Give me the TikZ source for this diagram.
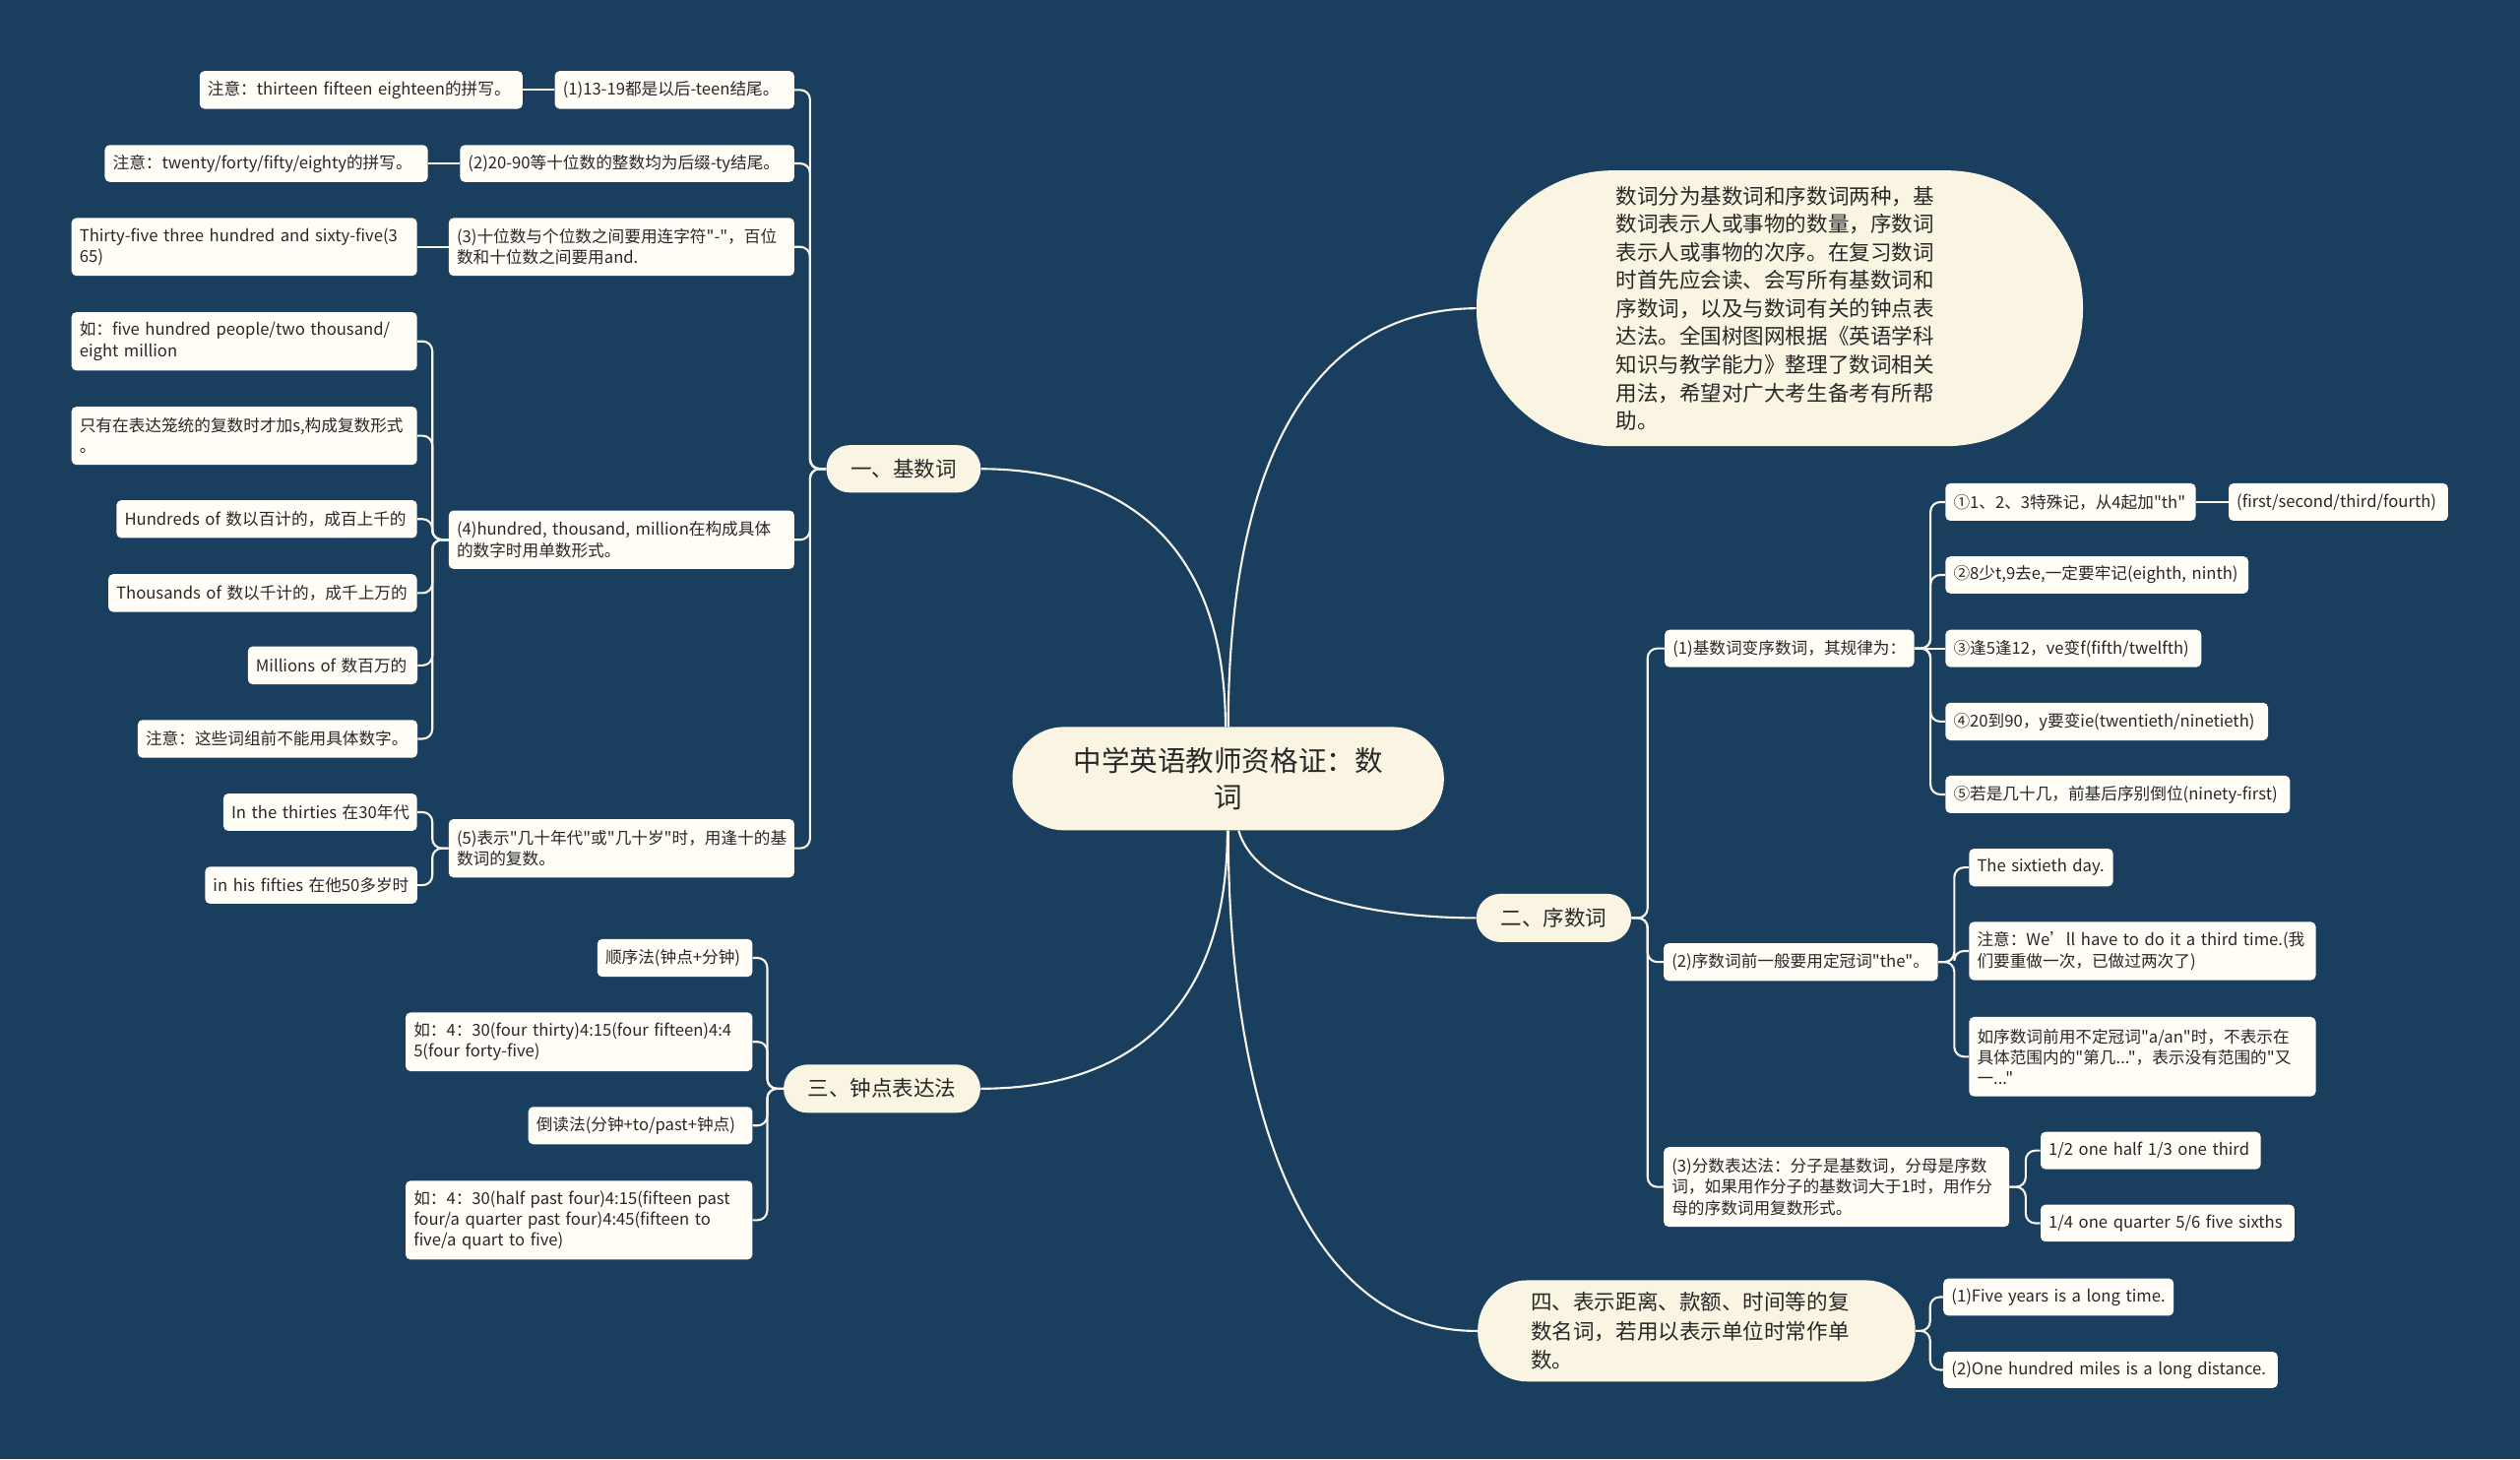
\documentclass[tikz,border=0pt]{standalone}
\usepackage{fontspec}
\setmainfont{Noto Sans CJK SC}[Ligatures=TeXOff]
\definecolor{bgc}{HTML}{1A3E5E}
\definecolor{pillc}{RGB}{250,245,226}
\definecolor{leafc}{RGB}{255,253,246}
\definecolor{txtc}{RGB}{40,40,40}
\definecolor{linec}{RGB}{246,244,236}
\pgfdeclarelayer{background}
\pgfsetlayers{background,main}
\tikzset{
  leaf/.style={rectangle, rounded corners=3pt, fill=leafc, text=txtc, inner xsep=5pt, inner ysep=2pt, align=left, anchor=north west, font=\fontsize{10.2}{13}\selectfont},
  pillb/.style={rectangle, fill=pillc, text=txtc, inner sep=0pt},
  conn/.style={draw=linec, line width=1.3pt},
  tree/.style={conn, rounded corners=6pt},
}
\begin{document}
\begin{tikzpicture}[x=1pt,y=-1pt]
\begin{pgfonlayer}{background}
\fill[bgc] (0,0) rectangle (1568,908);
\end{pgfonlayer}
\useasboundingbox (0,0) rectangle (1568,908);

% central and main branches
\node[pillb, minimum width=268.5pt, minimum height=64.3pt, rounded corners=32pt, align=center, font=\fontsize{17.5}{22.5}\selectfont] (title) at (764.2,484.4) {中学英语教师资格证：数\\词};
\node[pillb, minimum width=377.3pt, minimum height=171.5pt, rounded corners=85pt, align=left, font=\fontsize{13.2}{17.5}\selectfont] (intro) at (1107.4,191.8) {数词分为基数词和序数词两种，基\hspace*{6pt}\\数词表示人或事物的数量，序数词\\表示人或事物的次序。在复习数词\\时首先应会读、会写所有基数词和\\序数词，以及与数词有关的钟点表\\达法。全国树图网根据《英语学科\\知识与教学能力》整理了数词相关\\用法，希望对广大考生备考有所帮\\助。};
\node[pillb, minimum width=96pt, minimum height=29.5pt, rounded corners=14.5pt, font=\fontsize{13.2}{16}\selectfont] (B1) at (562.2,291.7) {一、基数词};
\node[pillb, minimum width=96.3pt, minimum height=30pt, rounded corners=14.8pt, font=\fontsize{13.2}{16}\selectfont] (B2) at (966.8,571.1) {二、序数词};
\node[pillb, minimum width=122.4pt, minimum height=30pt, rounded corners=14.8pt, font=\fontsize{13.2}{16}\selectfont] (B3) at (548.8,677.3) {三、钟点表达法};
\node[pillb, minimum width=272.3pt, minimum height=63pt, rounded corners=31pt, align=left, font=\fontsize{13.2}{18}\selectfont] (B4) at (1055.6,828) {四、表示距离、款额、时间等的复\hspace*{8pt}\\数名词，若用以表示单位时常作单\\数。};

% branch one
\node[leaf, text width=139pt, minimum height=23.5pt] (L1) at (345,44) {\mbox{(1)13-19都是以后-teen结尾。}};
\node[leaf, text width=191pt, minimum height=23.5pt] (L1a) at (124,44) {\mbox{注意：thirteen fifteen eighteen的拼写。}};
\node[leaf, text width=198pt, minimum height=23pt] (L2) at (286,90) {\mbox{(2)20-90等十位数的整数均为后缀-ty结尾。}};
\node[leaf, text width=191pt, minimum height=23pt] (L2a) at (65,90) {\mbox{注意：twenty/forty/fifty/eighty的拼写。}};
\node[leaf, text width=205pt, minimum height=36pt] (L3) at (279,135.4) {\mbox{(3)十位数与个位数之间要用连字符"-"，百位}\\\mbox{数和十位数之间要用and.}};
\node[leaf, text width=205pt, minimum height=36pt] (L3a) at (44.3,135.4) {\mbox{Thirty-five three hundred and sixty-five(3}\\\mbox{65)}};
\node[leaf, text width=205pt, minimum height=36.4pt] (L4) at (279,317.4) {\mbox{(4)hundred, thousand, million在构成具体}\\\mbox{的数字时用单数形式。}};
\node[leaf, text width=205pt, minimum height=36.3pt] (L4a) at (44.3,194) {\mbox{如：five hundred people/two thousand/}\\\mbox{eight million}};
\node[leaf, text width=205pt, minimum height=36.2pt] (L4b) at (44.3,252.8) {\mbox{只有在表达笼统的复数时才加s,构成复数形式}\\\mbox{。}};
\node[leaf, text width=177pt, minimum height=23.5pt] (L4c) at (72.3,311) {\mbox{Hundreds of 数以百计的，成百上千的}};
\node[leaf, text width=182pt, minimum height=23.5pt] (L4d) at (67.2,357) {\mbox{Thousands of 数以千计的，成千上万的}};
\node[leaf, text width=95.5pt, minimum height=23.5pt] (L4e) at (154,402) {\mbox{Millions of 数百万的}};
\node[leaf, text width=164pt, minimum height=23.5pt] (L4f) at (85.5,447.7) {\mbox{注意：这些词组前不能用具体数字。}};
\node[leaf, text width=205pt, minimum height=36.3pt] (L5) at (279,509.4) {\mbox{(5)表示"几十年代"或"几十岁"时，用逢十的基}\\\mbox{数词的复数。}};
\node[leaf, text width=110.5pt, minimum height=23.2pt] (L5a) at (138.8,493.5) {\mbox{In the thirties 在30年代}};
\node[leaf, text width=122pt, minimum height=23pt] (L5b) at (127.4,539) {\mbox{in his fifties 在他50多岁时}};

% branch three
\node[leaf, text width=86.5pt, minimum height=23.5pt] (T1) at (371.5,584) {\mbox{顺序法(钟点+分钟)}};
\node[leaf, text width=205.8pt, minimum height=36.5pt] (T2) at (252.2,629.7) {\mbox{如：4：30(four thirty)4:15(four fifteen)4:4}\\\mbox{5(four forty-five)}};
\node[leaf, text width=129.5pt, minimum height=23.3pt] (T3) at (328.5,688.4) {\mbox{倒读法(分钟+to/past+钟点)}};
\node[leaf, text width=205.8pt, minimum height=49pt] (T4) at (252.2,734.4) {\mbox{如：4：30(half past four)4:15(fifteen past}\\\mbox{four/a quarter past four)4:45(fifteen to}\\\mbox{five/a quart to five)}};

% branch two
\node[leaf, text width=145.2pt, minimum height=23.2pt] (S1) at (1035.6,391.6) {\mbox{(1)基数词变序数词，其规律为：}};
\node[leaf, text width=145.7pt, minimum height=23.3pt] (S1a) at (1210.3,300.5) {\mbox{①1、2、3特殊记，从4起加"th"}};
\node[leaf, text width=126.5pt, minimum height=23.3pt] (S1a1) at (1386.5,300.5) {\mbox{(first/second/third/fourth)}};
\node[leaf, text width=178.5pt, minimum height=23pt] (S1b) at (1210.3,346) {\mbox{②8少t,9去e,一定要牢记(eighth, ninth)}};
\node[leaf, text width=149.2pt, minimum height=23.2pt] (S1c) at (1210.3,391.6) {\mbox{③逢5逢12，ve变f(fifth/twelfth)}};
\node[leaf, text width=190.7pt, minimum height=23.4pt] (S1d) at (1210.3,437) {\mbox{④20到90，y要变ie(twentieth/ninetieth)}};
\node[leaf, text width=204.4pt, minimum height=23.3pt] (S1e) at (1210.3,482.4) {\mbox{⑤若是几十几，前基后序别倒位(ninety-first)}};
\node[leaf, text width=160.6pt, minimum height=23.4pt] (S2) at (1035,586.6) {\mbox{(2)序数词前一般要用定冠词"the"。}};
\node[leaf, text width=79.6pt, minimum height=23.4pt] (S2a) at (1225,527.8) {\mbox{The sixtieth day.}};
\node[leaf, text width=205.7pt, minimum height=36.3pt] (S2b) at (1225,573.3) {\mbox{注意：We’ll have to do it a third time.(我}\\\mbox{们要重做一次，已做过两次了)}};
\node[leaf, text width=205.7pt, minimum height=49.4pt] (S2c) at (1225,632.5) {\mbox{如序数词前用不定冠词"a/an"时，不表示在}\\\mbox{具体范围内的"第几..."，表示没有范围的"又}\\\mbox{一..."}};
\node[leaf, text width=205pt, minimum height=49.5pt] (S3) at (1035,713.5) {\mbox{(3)分数表达法：分子是基数词，分母是序数}\\\mbox{词，如果用作分子的基数词大于1时，用作分}\\\mbox{母的序数词用复数形式。}};
\node[leaf, text width=127pt, minimum height=23.2pt] (S3a) at (1269.5,704) {\mbox{1/2 one half 1/3 one third}};
\node[leaf, text width=148pt, minimum height=23pt] (S3b) at (1269.5,749.3) {\mbox{1/4 one quarter 5/6 five sixths}};

% branch four
\node[leaf, text width=133.3pt, minimum height=23.1pt] (F1) at (1209,795.2) {\mbox{(1)Five years is a long time.}};
\node[leaf, text width=198pt, minimum height=22.5pt] (F2) at (1209,840.8) {\mbox{(2)One hundred miles is a long distance.}};

\begin{pgfonlayer}{background}
% main curves
\draw[conn] (title.north) .. controls (764.6,283) and (818.6,192.5) .. (intro.west);
\draw[conn] ([xshift=-1.7pt]title.north) .. controls (762.5,348) and (709.2,292) .. (B1.east);
\draw[conn] ([xshift=6.5pt]title.south) .. controls (782,555) and (850,571) .. (B2.west);
\draw[conn] ([xshift=-0.5pt]title.south) .. controls (763.7,621) and (710,677.3) .. (B3.east);
\draw[conn] (title.south) .. controls (764.6,704.2) and (818.6,829.3) .. (B4.west);
% branch one
\foreach \c in {L1,L2,L3,L4,L5}
  \draw[tree] (B1.west) -- ([xshift=-10pt]B1.west) |- (\c.east);
\draw[conn] (L1.west) -- (L1a.east);
\draw[conn] (L2.west) -- (L2a.east);
\draw[conn] (L3.west) -- (L3a.east);
\foreach \c in {L4a,L4b,L4c,L4d,L4e,L4f}
  \draw[tree] (L4.west) -- ([xshift=-10pt]L4.west) |- (\c.east);
\foreach \c in {L5a,L5b}
  \draw[tree] (L5.west) -- ([xshift=-10pt]L5.west) |- (\c.east);
% branch three
\foreach \c in {T1,T2,T3,T4}
  \draw[tree] (B3.west) -- ([xshift=-10pt]B3.west) |- (\c.east);
% branch two
\foreach \c in {S1,S2,S3}
  \draw[tree] (B2.east) -- ([xshift=10pt]B2.east) |- (\c.west);
\foreach \c in {S1a,S1b,S1d,S1e}
  \draw[tree] (S1.east) -- ([xshift=10pt]S1.east) |- (\c.west);
\draw[conn] (S1.east) -- (S1c.west);
\draw[conn] (S1a.east) -- (S1a1.west);
\foreach \c in {S2a,S2b,S2c}
  \draw[tree] (S2.east) -- ([xshift=10pt]S2.east) |- (\c.west);
\foreach \c in {S3a,S3b}
  \draw[tree] (S3.east) -- ([xshift=10pt]S3.east) |- (\c.west);
% branch four
\foreach \c in {F1,F2}
  \draw[tree] (B4.east) -- ([xshift=9pt]B4.east) |- (\c.west);
\end{pgfonlayer}
\end{tikzpicture}
\end{document}
